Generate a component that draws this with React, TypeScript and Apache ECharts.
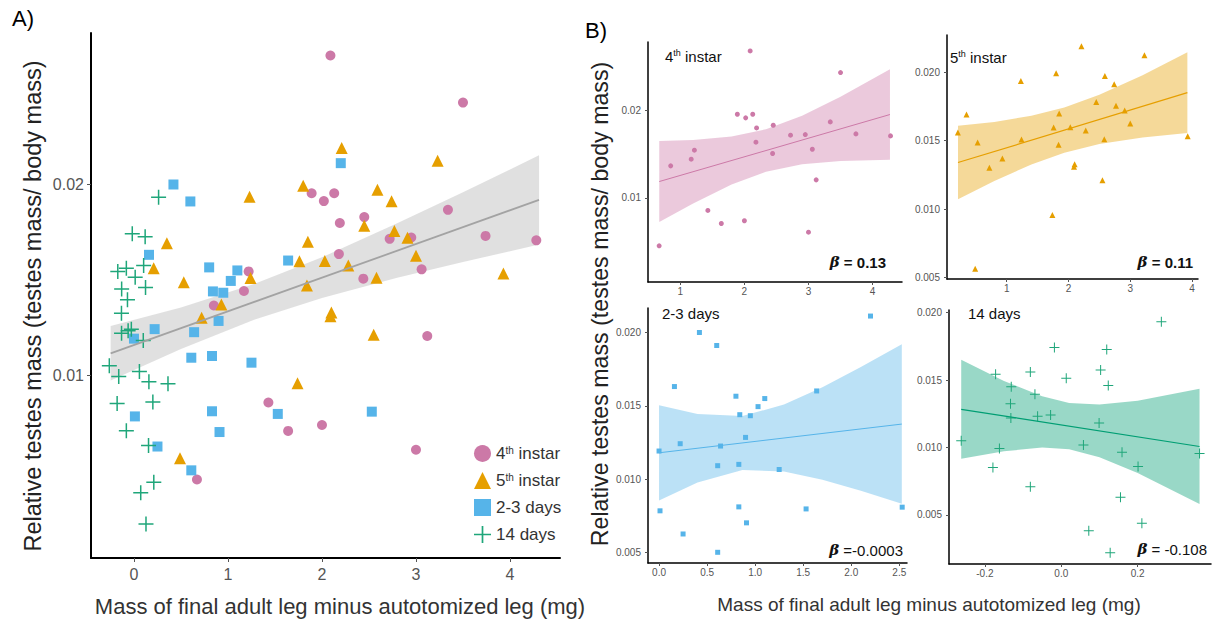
import React, { useEffect, useRef } from 'react';
import * as echarts from 'echarts';

const FONT = '"Liberation Sans", Arial, sans-serif';
const PINK = '#cc79a7';
const ORANGE = '#e69f00';
const BLUE = '#56b4e9';
const GREEN = '#009e73';
const CROSS_GREEN = '#1fa67a';
const CROSS = 'path://M9,0h2v9h9v2h-9v9h-2v-9h-9v-2h9z';

const groupNames = ['4th instar', '5th instar', '2-3 days', '14 days'];

// 4th instar
const instar4Mass = [0.67, 0.85, 1.17, 1.22, 1.43, 1.64, 1.89, 2.02, 2.13, 2.09, 2.19, 2.18, 2.0, 2.45, 2.44, 2.72, 2.95, 3.06, 3.12, 3.0, 3.34, 3.5, 3.74, 4.28];
const instar4Testes = [0.00452, 0.01365, 0.01441, 0.01544, 0.00856, 0.00707, 0.01954, 0.01913, 0.01954, 0.02677, 0.01798, 0.01635, 0.00738, 0.01829, 0.01506, 0.01715, 0.01722, 0.01555, 0.01205, 0.00608, 0.01867, 0.0243, 0.0173, 0.01707];

// 5th instar
const instar5Mass = [0.21, 0.35, 0.49, 0.53, 0.72, 0.93, 1.23, 1.24, 1.76, 1.8, 1.85, 1.84, 1.74, 2.03, 2.1, 2.09, 2.21, 2.28, 2.45, 2.55, 2.58, 2.59, 2.74, 2.77, 2.91, 3.0, 3.23, 3.93];
const instar5Testes = [0.0156, 0.01692, 0.00563, 0.01487, 0.01301, 0.0137, 0.01936, 0.01509, 0.01597, 0.01993, 0.01699, 0.0147, 0.00957, 0.01599, 0.01328, 0.01309, 0.02191, 0.01575, 0.01783, 0.01211, 0.01511, 0.01973, 0.01912, 0.01756, 0.01721, 0.01626, 0.02125, 0.01533];

// 2-3 days
const days23Mass = [0.0, 0.01, 0.16, 0.22, 0.25, 0.42, 0.6, 0.61, 0.64, 0.61, 0.8, 0.83, 0.83, 0.84, 0.9, 0.91, 0.95, 1.03, 1.1, 1.25, 1.53, 1.64, 2.2, 2.53];
const days23Testes = [0.01191, 0.00783, 0.01631, 0.01241, 0.00625, 0.02, 0.01911, 0.01091, 0.01225, 0.005, 0.01565, 0.011, 0.0081, 0.01439, 0.01284, 0.00701, 0.01432, 0.01494, 0.01549, 0.01065, 0.00796, 0.01601, 0.02112, 0.00808];

// 14 days
const days14Mass = [-0.262, -0.179, -0.172, -0.162, -0.133, -0.131, -0.132, -0.081, -0.081, -0.069, -0.062, -0.028, -0.018, 0.013, 0.058, 0.072, 0.099, 0.103, 0.119, 0.123, 0.128, 0.155, 0.159, 0.201, 0.211, 0.262, 0.362];
const days14Testes = [0.01049, 0.00851, 0.01543, 0.00992, 0.01325, 0.01451, 0.01219, 0.0156, 0.00708, 0.01395, 0.01232, 0.01241, 0.01741, 0.01513, 0.01019, 0.00382, 0.01182, 0.01575, 0.01726, 0.01459, 0.00218, 0.00631, 0.00965, 0.00858, 0.00438, 0.01933, 0.00955];

// fitted lines and confidence bands
const fitAX = [-0.248, 4.309];
const fitAY = [0.01114, 0.01919];
const bandAX = [-0.248, 0.5, 1.278, 2.0, 2.8, 3.5, 4.309];
const bandALow = [0.00971, 0.01137, 0.0129, 0.01404, 0.0151, 0.01593, 0.01685];
const bandAHigh = [0.01257, 0.01355, 0.01478, 0.01618, 0.01796, 0.01959, 0.02153];

const fit4X = [0.672, 4.271];
const fit4Y = [0.01186, 0.01951];
const band4X = [0.672, 1.2, 1.8, 2.337, 2.9, 3.5, 4.271];
const band4Low = [0.00724, 0.00936, 0.01152, 0.01297, 0.01383, 0.0142, 0.01434];
const band4High = [0.01648, 0.0166, 0.017, 0.01783, 0.01937, 0.02154, 0.02468];

const fit5X = [0.212, 3.925];
const fit5Y = [0.0134, 0.01851];
const band5X = [0.212, 0.8, 1.4, 1.933, 2.5, 3.2, 3.925];
const band5Low = [0.01071, 0.01205, 0.01326, 0.01411, 0.01475, 0.01524, 0.01556];
const band5High = [0.01609, 0.01637, 0.01682, 0.01743, 0.01835, 0.01978, 0.02147];

const fit23X = [0, 2.526];
const fit23Y = [0.01179, 0.01375];
const band23X = [0, 0.4, 0.868, 1.3, 1.7, 2.1, 2.526];
const band23Low = [0.00854, 0.00976, 0.01062, 0.01052, 0.00995, 0.0092, 0.00832];
const band23High = [0.01504, 0.01444, 0.0143, 0.01508, 0.01627, 0.01764, 0.01919];

const fit14X = [-0.262, 0.362];
const fit14Y = [0.01283, 0.01007];
const band14X = [-0.262, -0.15, -0.05, 0.0206, 0.1, 0.2, 0.362];
const band14Low = [0.00916, 0.00972, 0.00999, 0.00986, 0.00928, 0.00811, 0.0058];
const band14High = [0.0165, 0.01494, 0.01379, 0.0133, 0.01318, 0.01347, 0.01435];

// axis ticks
const ticksAX = [0, 1, 2, 3, 4];
const ticksAY = [0.01, 0.02];
const ticks4X = [1, 2, 3, 4];
const ticks4Y = [0.01, 0.02];
const ticks5X = [1, 2, 3, 4];
const ticksFineY = [0.005, 0.01, 0.015, 0.02];
const ticks23X = [0, 0.5, 1, 1.5, 2, 2.5];
const ticks14X = [-0.2, 0, 0.2];

const pairs = (xs: number[], ys: number[]) => xs.map((x, i) => [x, ys[i]]);

export default function App() {
  const ref = useRef<HTMLDivElement>(null);
  useEffect(() => {
    document.body.style.margin = '0';
    const chart = echarts.init(ref.current as HTMLDivElement, null, { renderer: 'svg' });

    const grids = [
      { left: 91, top: 33, width: 469, height: 525 },
      { left: 648, top: 42, width: 254, height: 240 },
      { left: 947, top: 35, width: 251, height: 244 },
      { left: 648, top: 308, width: 259, height: 255 },
      { left: 949, top: 310, width: 262, height: 254 },
    ].map((g) => ({ ...g, outerBoundsMode: 'none', containLabel: false }));

    const axisSpecs = [
      { x: [-0.457, 4.532], xt: ticksAX, xd: 0, y: [0.0004, 0.02795], yt: ticksAY, yd: 2, big: true },
      { x: [0.496, 4.459], xt: ticks4X, xd: 0, y: [0.00039, 0.02779], yt: ticks4Y, yd: 2, big: false },
      { x: [0.034, 4.097], xt: ticks5X, xd: 0, y: [0.00488, 0.02273], yt: ticksFineY, yd: 3, big: false },
      { x: [-0.115, 2.58], xt: ticks23X, xd: 1, y: [0.00427, 0.02167], yt: ticksFineY, yd: 3, big: false },
      { x: [-0.294, 0.392], xt: ticks14X, xd: 1, y: [0.00135, 0.0202], yt: ticksFineY, yd: 3, big: false },
    ];

    const xAxis = axisSpecs.map((s, i) => ({
      type: 'value',
      gridIndex: i,
      min: s.x[0],
      max: s.x[1],
      splitLine: { show: false },
      axisLine: { show: true, onZero: false, lineStyle: { color: '#000', width: s.big ? 2 : 1.5 } },
      axisTick: { show: true, customValues: s.xt, length: s.big ? 4 : 3, lineStyle: { color: '#555' } },
      axisLabel: {
        customValues: s.xt,
        fontSize: s.big ? 16 : 10,
        color: '#555',
        fontFamily: FONT,
        margin: s.big ? 8 : 4,
        formatter: (v: number) => v.toFixed(s.xd),
      },
    }));

    const yAxis = axisSpecs.map((s, i) => ({
      type: 'value',
      gridIndex: i,
      min: s.y[0],
      max: s.y[1],
      splitLine: { show: false },
      axisLine: { show: true, onZero: false, lineStyle: { color: '#000', width: s.big ? 2 : 1.5 } },
      axisTick: { show: true, customValues: s.yt, length: s.big ? 4 : 3, lineStyle: { color: '#555' } },
      axisLabel: {
        customValues: s.yt,
        fontSize: s.big ? 16 : 10,
        color: '#555',
        fontFamily: FONT,
        margin: 7,
        formatter: (v: number) => v.toFixed(s.yd),
      },
    }));

    const groups = [
      { name: groupNames[0], xs: instar4Mass, ys: instar4Testes, symbol: 'circle', color: PINK, sizeA: 10, sizeB: 5 },
      { name: groupNames[1], xs: instar5Mass, ys: instar5Testes, symbol: 'triangle', color: ORANGE, sizeA: 12, sizeB: 6 },
      { name: groupNames[2], xs: days23Mass, ys: days23Testes, symbol: 'rect', color: BLUE, sizeA: 10, sizeB: 5 },
      { name: groupNames[3], xs: days14Mass, ys: days14Testes, symbol: CROSS, color: CROSS_GREEN, sizeA: 15, sizeB: 10 },
    ];

    const series: any[] = [];
    groups.forEach((g) => {
      series.push({
        type: 'scatter',
        name: g.name,
        xAxisIndex: 0,
        yAxisIndex: 0,
        data: pairs(g.xs, g.ys),
        symbol: g.symbol,
        symbolSize: g.sizeA,
        itemStyle: { color: g.color, opacity: 1 },
        silent: true,
      });
    });
    groups.forEach((g, i) => {
      series.push({
        type: 'scatter',
        name: 'B ' + g.name,
        xAxisIndex: i + 1,
        yAxisIndex: i + 1,
        data: pairs(g.xs, g.ys),
        symbol: g.symbol,
        symbolSize: g.sizeB,
        itemStyle: { color: g.color, opacity: 1 },
        silent: true,
      });
    });

    const bands = [
      { bx: bandAX, lo: bandALow, hi: bandAHigh, fx: fitAX, fy: fitAY, fill: 'rgba(153,153,153,0.3)', line: '#a3a3a3', lw: 1.8 },
      { bx: band4X, lo: band4Low, hi: band4High, fx: fit4X, fy: fit4Y, fill: 'rgba(204,121,167,0.4)', line: PINK, lw: 1 },
      { bx: band5X, lo: band5Low, hi: band5High, fx: fit5X, fy: fit5Y, fill: 'rgba(230,159,0,0.4)', line: ORANGE, lw: 1.2 },
      { bx: band23X, lo: band23Low, hi: band23High, fx: fit23X, fy: fit23Y, fill: 'rgba(86,180,233,0.4)', line: BLUE, lw: 1 },
      { bx: band14X, lo: band14Low, hi: band14High, fx: fit14X, fy: fit14Y, fill: 'rgba(0,158,115,0.4)', line: GREEN, lw: 1.2 },
    ];
    bands.forEach((b, i) => {
      series.push({
        type: 'custom',
        name: 'band-' + i,
        coordinateSystem: 'cartesian2d',
        xAxisIndex: i,
        yAxisIndex: i,
        data: [[b.bx[0], b.lo[0]]],
        silent: true,
        renderItem: (params: any, api: any) => {
          const upper = b.bx.map((x, k) => api.coord([x, b.hi[k]]));
          const lower = b.bx.map((x, k) => api.coord([x, b.lo[k]])).reverse();
          return {
            type: 'polygon',
            shape: { points: upper.concat(lower) },
            style: { fill: b.fill, stroke: 'none' },
          };
        },
      });
      series.push({
        type: 'line',
        name: 'fit-' + i,
        xAxisIndex: i,
        yAxisIndex: i,
        data: pairs(b.fx, b.fy),
        symbol: 'none',
        lineStyle: { color: b.line, width: b.lw },
        silent: true,
      });
    });

    const sup = { fontSize: 10, verticalAlign: 'top', fontFamily: FONT, color: '#333' };
    const supB = { fontSize: 9, verticalAlign: 'top', fontFamily: FONT, fill: '#111', color: '#111' };
    const textEl = (text: string, x: number, y: number, size: number, extra: any = {}, align = 'left') => ({
      type: 'text',
      x,
      y,
      silent: true,
      style: {
        text,
        fontSize: size,
        fontFamily: FONT,
        fill: '#111',
        align,
        verticalAlign: 'middle',
        ...extra,
      },
    });
    const rotText = (text: string, x: number, y: number, size: number, fill: string) => ({
      type: 'text',
      x,
      y,
      rotation: Math.PI / 2,
      silent: true,
      style: { text, fontSize: size, fontFamily: FONT, fill, align: 'center', verticalAlign: 'middle' },
    });
    const betaRich = (bold: boolean) => ({
      rich: {
        b: {
          fontFamily: '"DejaVu Serif", serif',
          fontStyle: 'italic',
          fontWeight: 'bold',
          fontSize: 15,
          fill: '#111',
          color: '#111',
        },
      },
      fontWeight: bold ? 'bold' : 'normal',
    });

    const option: any = {
      animation: false,
      backgroundColor: '#fff',
      grid: grids,
      xAxis,
      yAxis,
      series,
      legend: {
        data: groupNames,
        orient: 'vertical',
        left: 474,
        top: 445,
        itemWidth: 17,
        itemHeight: 17,
        itemGap: 10,
        padding: 0,
        selectedMode: false,
        textStyle: { fontSize: 17, color: '#333', fontFamily: FONT, rich: { sup } },
        formatter: (name: string) => name.replace('th', '{sup|th}'),
      },
      graphic: [
        textEl('A)', 12, 18, 22, { fill: '#000' }),
        textEl('B)', 585, 30, 22, { fill: '#000' }),
        rotText('Relative testes mass (testes mass/ body mass)', 33, 306, 23.5, '#222'),
        rotText('Relative testes mass (testes mass/ body mass)', 600, 304, 23.2, '#222'),
        textEl('Mass of final adult leg minus autotomized leg (mg)', 340, 606, 22, { fill: '#333' }, 'center'),
        textEl('Mass of final adult leg minus autotomized leg (mg)', 929, 604, 19, { fill: '#333' }, 'center'),
        textEl('4{sup|th} instar', 665, 56, 15, { rich: { sup: supB } }),
        textEl('5{sup|th} instar', 950, 57, 15, { rich: { sup: supB } }),
        textEl('2-3 days', 662, 313, 15),
        textEl('14 days', 968, 313, 15),
        textEl('{b|β} = 0.13', 886, 262, 15, betaRich(true), 'right'),
        textEl('{b|β} = 0.11', 1193, 262, 15, betaRich(true), 'right'),
        textEl('{b|β} =-0.0003', 903, 550, 15, betaRich(false), 'right'),
        textEl('{b|β} = -0.108', 1207, 549, 15, betaRich(false), 'right'),
      ],
    };

    chart.setOption(option);
    return () => chart.dispose();
  }, []);
  return <div ref={ref} style={{ width: 1213, height: 620, background: '#fff' }} />;
}
